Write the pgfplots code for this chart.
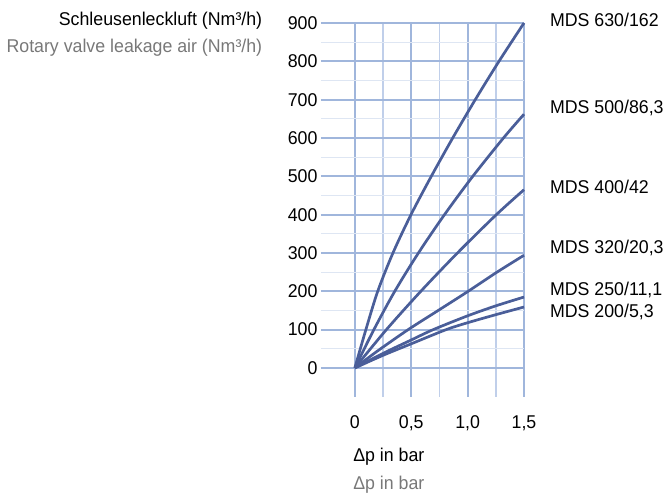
\documentclass[border=0pt]{standalone}
\usepackage{fontspec}
\setmainfont[FakeStretch=0.96]{Liberation Sans}
\usepackage{pgfplots}
\pgfplotsset{compat=1.18}
\definecolor{curve}{RGB}{74,94,153}
\definecolor{gridmaj}{RGB}{160,182,220}
\definecolor{gridmin}{RGB}{192,207,234}
\definecolor{gridfaint}{RGB}{222,230,243}
\definecolor{labgray}{RGB}{120,120,120}
\newcommand{\lab}{\fontsize{18.5}{21}\selectfont}
\begin{document}
\begin{tikzpicture}[x=1pt,y=1pt, mds/.style={curve, line width=2.7pt, smooth, no markers}]
\path[use as bounding box] (0,0) rectangle (664,496);
\begin{axis}[
  at={(321pt,99.3pt)}, anchor=south west,
  scale only axis, width=203pt, height=373.7pt,
  xmin=-0.3, xmax=1.5, ymin=-75, ymax=900,
  axis line style={draw=none},
  major tick length=0pt, minor tick length=0pt,
  xtick={0,0.5,1,1.5}, xticklabels={0,{0,5},{1,0},{1,5}},
  minor xtick={0.25,0.75,1.25},
  ytick={0,100,...,900},
  yticklabels={0,100,200,300,400,500,600,700,800,900},
  minor ytick={50,150,...,850},
  grid=both,
  major grid style={gridmaj, line width=2.1pt},
  minor x grid style={gridmin, line width=1.5pt},
  minor y grid style={gridfaint, line width=1.2pt},
  tick label style={font=\lab},
  xticklabel style={yshift=-15.5pt},
  clip=false,
]
% MDS 630/162
\addplot[mds] coordinates {
  (0,0) (0.098,100) (0.203,200) (0.338,300) (0.498,400) (0.678,500)
  (0.868,600) (1.068,700) (1.278,800) (1.5,900)};
% MDS 500/86,3
\addplot[mds] coordinates {
  (0,0) (0.169,100) (0.354,200) (0.564,300) (0.795,400) (1.046,500)
  (1.318,600) (1.5,662)};
% MDS 400/42
\addplot[mds] coordinates {
  (0,0) (0.28,100) (0.585,200) (0.91,300) (1.255,400) (1.5,465)};
% MDS 320/20,3
\addplot[mds] coordinates {
  (0,0) (0.2,44) (0.473,100) (0.75,152) (1.005,200) (1.25,248) (1.5,294)};
% MDS 250/11,1
\addplot[mds] coordinates {
  (0,0) (0.25,38) (0.5,73) (0.695,100) (1.0,136) (1.25,162) (1.5,185)};
% MDS 200/5,3
\addplot[mds] coordinates {
  (0,0) (0.25,33) (0.5,63) (0.81,100) (1.0,118) (1.25,139) (1.5,159)};
\node[anchor=west, font=\lab] at (axis cs:1.70,908) {MDS 630/162};
\node[anchor=west, font=\lab] at (axis cs:1.70,678) {MDS 500/86,3};
\node[anchor=west, font=\lab] at (axis cs:1.70,472) {MDS 400/42};
\node[anchor=west, font=\lab] at (axis cs:1.70,313) {MDS 320/20,3};
\node[anchor=west, font=\lab] at (axis cs:1.70,203) {MDS 250/11,1};
\node[anchor=west, font=\lab] at (axis cs:1.70,146) {MDS 200/5,3};
\node[anchor=east, font=\lab] at (axis cs:-0.79,906) {Schleusenleckluft (Nm³/h)};
\node[anchor=east, font=\lab, text=labgray] at (axis cs:-0.79,836) {Rotary valve leakage air (Nm³/h)};
\node[anchor=west, font=\lab] at (axis cs:-0.045,-232) {Δp in bar};
\node[anchor=west, font=\lab, text=labgray] at (axis cs:-0.045,-305) {Δp in bar};
\end{axis}
\end{tikzpicture}
\end{document}
